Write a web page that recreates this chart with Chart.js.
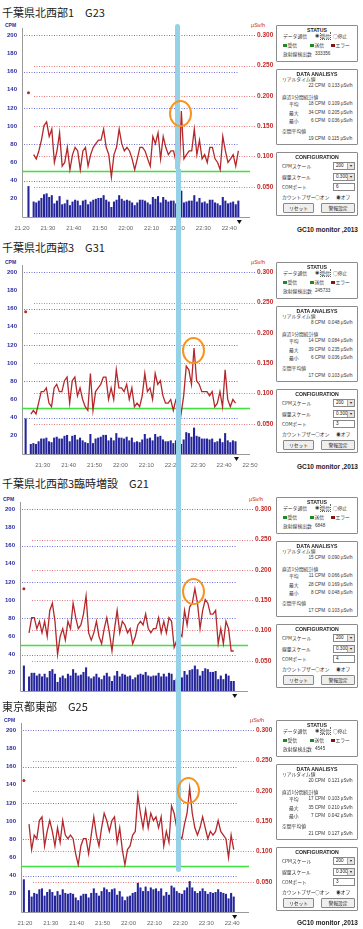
<!DOCTYPE html>
<html>
<head>
<meta charset="utf-8">
<script src="https://cdn.jsdelivr.net/npm/chart.js@4.4.1/dist/chart.umd.min.js"></script>
<style>
body{margin:0;background:#fff;width:363px;height:929px;overflow:hidden;position:relative;font-family:"Noto Sans CJK JP",sans-serif;color:#333}
canvas{position:absolute;z-index:1}
.abs{position:absolute;white-space:nowrap;z-index:1}
.title{font-size:11px;line-height:12px;color:#222}
.cpm{font:bold 5px "Liberation Sans",sans-serif;line-height:6px;color:#2c2ca0}
.usv{font:5.5px "Liberation Sans",sans-serif;line-height:6px;color:#c62828}
.s{font-size:4.8px;line-height:6px;color:#333}
.n{font:4.6px "Liberation Sans",sans-serif;line-height:6px;color:#333}
.box{position:absolute;left:276px;width:82px;border:1px solid #8c8c8c;box-sizing:border-box;border-radius:1px;z-index:1}
.hd{position:absolute;left:276px;width:82px;text-align:center;line-height:7px;z-index:2}
.hd span{background:#fff;padding:0 3px;font:bold 5.2px "Liberation Sans",sans-serif;color:#222}
.sq{position:absolute;width:3.5px;height:3.5px;z-index:1}
.sel{position:absolute;height:8px;border:1px solid #888;box-sizing:border-box;background:#fff;z-index:1;font:4.6px "Liberation Sans",sans-serif;line-height:6px;padding-left:2px;color:#222}
.sel i{position:absolute;right:0;top:0;width:6px;height:6px;background:#e4e4e4;border-left:1px solid #aaa;font-style:normal;font-size:3.5px;text-align:center}
.btn{position:absolute;height:10px;border:1px solid #888;box-sizing:border-box;background:#efefef;border-radius:1px;text-align:center;font-size:4.8px;line-height:8px;z-index:1;color:#222}
.gc{font:bold 6.5px "Liberation Sans",sans-serif;line-height:8px;color:#222}
.mark{position:absolute;z-index:3;border:2.5px solid #f7931e;border-radius:50%;box-sizing:border-box}
.cursor{position:absolute;width:5px;background:#96d2e7;z-index:2}
</style>
</head>
<body>
<div class="cursor" style="left:175px;top:24px;height:145px;border-radius:2.5px 2.5px 0 0"></div>
<div class="cursor" style="left:176px;top:169px;height:703px;border-radius:0 0 2.5px 2.5px"></div>
<script>
// ---- data ----
const stations = ['千葉県北西部1　G23', '千葉県北西部3　G31', '千葉県北西部3臨時増設　G21', '東京都東部　G25'];
// minutes after midnight: axis start/end and time of the first reading
const axisStart = [1280, 1282, 1280, 1278.5];
const axisEnd = [1368, 1370, 1368, 1366.5];
const firstRead = [1282.5, 1283.4, 1281.5, 1279.6];
const showTime = [true, true, false, true];

const cpmTicks = [20, 40, 60, 80, 100, 120, 140, 160, 180, 200];
const doseTicks = [0.05, 0.1, 0.15, 0.2, 0.25, 0.3];
const cpmGrid = [40, 80, 120, 160, 200];
const doseGrid = [0.05, 0.1, 0.15, 0.2, 0.25];
const alarmCpm = 50;

const cpm1 = [34, null, 17,16,18,21,25,26,22,24,15,18, 23,14,15,19,13,17,19,18,13,18, 19,14,17,19,20,21,21,24,19,17, 11,17,19,24,20,18,19,18,16,13, 16,19,19,18,16,14,22,20,23,16, 22,19,17,18,18,15,9,29,16,17, 18,18,24,17,21,16,17,15,19,19, 16,15,13,22,18,15,16,17,14,18];
const dose1 = [0.205, null, .103,.096,.109,.127,.151,.157,.133,.145,.090,.109, .139,.084,.090,.115,.078,.103,.115,.109,.078,.109, .115,.084,.103,.115,.121,.127,.127,.145,.115,.103, .066,.103,.115,.145,.121,.109,.115,.109,.096,.078, .096,.115,.115,.109,.096,.084,.133,.121,.139,.096, .133,.115,.103,.109,.109,.090,.054,.175,.096,.103, .109,.109,.145,.103,.127,.096,.103,.090,.115,.115, .096,.090,.078,.133,.109,.090,.096,.103,.084,.109];

const cpm2 = [39, null, 11,12,11,14,17,17,18,14,13,18, 19,17,17,20,21,14,20,21,16,18, 15,13,12,22,12,17,18,19,21,21, 15,18,15,23,18,18,17,19,15,18, 13,14,13,16,22,17,18,15,22,19, 20,16,14,14,15,12,15,16,11,16, 24,23,19,29,20,19,17,17,17,16, 17,13,14,17,13,23,15,13,15,14];
const dose2 = [0.235, null, .066,.072,.066,.084,.103,.103,.109,.084,.078,.109, .115,.103,.103,.121,.127,.084,.121,.127,.096,.109, .090,.078,.072,.133,.072,.103,.109,.115,.127,.127, .090,.109,.090,.139,.109,.109,.103,.115,.090,.109, .078,.084,.078,.096,.133,.103,.109,.090,.133,.115, .121,.096,.084,.084,.090,.072,.090,.096,.066,.096, .145,.139,.115,.175,.121,.115,.103,.103,.103,.096, .103,.078,.084,.103,.078,.139,.090,.078,.090,.084];

const cpm3 = [28, null, 16,20,20,17,19,16,19,15,22,24, 19,10,15,17,14,19,17,24,20,17, 18,21,26,16,14,16,19,15,13,17, 20,16,11,17,22,16,19,18,16,17, 13,15,18,19,18,21,17,16,17,17, 20,16,19,16,20,19,12,14,16,15, 22,18,23,24,28,24,17,22,25,24, 21,21,22,13,17,13,19,17,11,11];
const dose3 = [0.169, null, .096,.121,.121,.103,.115,.096,.115,.090,.133,.145, .115,.060,.090,.103,.084,.115,.103,.145,.121,.103, .109,.127,.157,.096,.084,.096,.115,.090,.078,.103, .121,.096,.066,.103,.133,.096,.115,.109,.096,.103, .078,.090,.109,.115,.109,.127,.103,.096,.103,.103, .121,.096,.115,.096,.121,.115,.072,.084,.096,.090, .133,.109,.139,.145,.169,.145,.103,.133,.151,.145, .127,.127,.133,.078,.103,.078,.115,.103,.066,.066];

const cpm4 = [36, null, 24,17,21,20,25,26,18,22,25,22, 18,23,19,25,21,20,21,20,16,13, 18,20,20,16,21,26,21,18,23,27, 25,22,25,26,19,23,17,13,17,18, 21,22,32,27,23,28,23,27,25,26, 23,26,18,22,19,29,27,23,21,20, 24,27,34,27,23,21,23,26,23,20, 22,21,22,25,22,21,20,15,21,17];
const dose4 = [0.217, null, .145,.103,.127,.121,.151,.157,.109,.133,.151,.133, .109,.139,.115,.151,.127,.121,.127,.121,.096,.078, .109,.121,.121,.096,.127,.157,.127,.109,.139,.163, .151,.133,.151,.157,.115,.139,.103,.078,.103,.109, .127,.133,.193,.163,.139,.169,.139,.163,.151,.157, .139,.157,.109,.133,.115,.175,.163,.139,.127,.121, .145,.163,.205,.163,.139,.127,.139,.157,.139,.121, .133,.127,.133,.151,.133,.127,.121,.090,.127,.103];

const cpmSeries = [cpm1, cpm2, cpm3, cpm4];
const doseSeries = [dose1, dose2, dose3, dose4];

// side panel readouts
const detectCounts = ['333356', '245733', '6848', '4545'];
const realCpm = [22, 8, 15, 20], realDose = ['0.133', '0.048', '0.090', '0.121'];
const avgCpm = [18, 14, 11, 17], avgDose = ['0.109', '0.084', '0.066', '0.103'];
const maxCpm = [34, 39, 28, 35], maxDose = ['0.205', '0.235', '0.169', '0.210'];
const minCpm = [6, 6, 8, 7], minDose = ['0.036', '0.036', '0.048', '0.042'];
const spaceCpm = [19, 17, 17, 21], spaceDose = ['0.115', '0.103', '0.103', '0.127'];
const comPorts = ['6', '3', '4', '3'];

// ---- layout ----
const PAD_TOP = 6;
const axisBottom = [217, 454, 691, 912];
const canvasLeft = [0, 0, -2, -1];
const titleY = [12, 247, 483, 706];
const sideTop = [25, 262, 497, 720];
const footY = [228, 465, null, 921];

function el(tag, cls, css, text) {
  const e = document.createElement(tag);
  if (cls) e.className = cls;
  Object.assign(e.style, css);
  if (text != null) e.textContent = text;
  document.body.appendChild(e);
  return e;
}
function txt(x, y, s, cls = 's') {
  return el('div', 'abs ' + cls, { left: x + 'px', top: (y - 3) + 'px' }, s);
}
function rtxt(x, y, s, cls = 'n') {
  return el('div', 'abs ' + cls, { right: (363 - x) + 'px', top: (y - 3) + 'px' }, s);
}
function box(top, h, title) {
  el('div', 'box', { top: top + 'px', height: h + 'px' });
  const hd = el('div', 'hd', { top: (top - 3.5) + 'px' });
  const sp = document.createElement('span');
  sp.textContent = title;
  hd.appendChild(sp);
}
function fmtTime(v) {
  return Math.floor(v / 60) + ':' + String(Math.round(v % 60)).padStart(2, '0');
}

function sidePanel(i) {
  const t = sideTop[i];
  box(t, 37, 'STATUS');
  txt(283, t + 11, 'データ通信');
  txt(315, t + 11, '◉', 'n');
  const on = txt(320.5, t + 11, '受信');
  on.style.outline = '1px dotted #666';
  txt(333, t + 11, '○停止');
  el('div', 'sq', { left: '283px', top: (t + 18.5) + 'px', background: '#1d8a22' });
  txt(287.5, t + 20, '受信');
  el('div', 'sq', { left: '310px', top: (t + 18.5) + 'px', background: '#1d8a22' });
  txt(314.5, t + 20, '送信');
  el('div', 'sq', { left: '331px', top: (t + 18.5) + 'px', background: '#8a1212' });
  txt(335.5, t + 20, 'エラー');
  txt(283, t + 29, '放射線検出数');
  txt(315, t + 29, detectCounts[i], 'n');

  box(t + 44, 76, 'DATA ANALISYS');
  const rows = [
    [null, 61, realCpm[i], realDose[i]],
    ['平均', 79, avgCpm[i], avgDose[i]],
    ['最大', 87.5, maxCpm[i], maxDose[i]],
    ['最小', 96, minCpm[i], minDose[i]],
    [null, 114, spaceCpm[i], spaceDose[i]]
  ];
  txt(282, t + 54, 'リアルタイム値');
  txt(282, t + 72, '直近1分間統計値');
  txt(282, t + 106, '空間平均値');
  rows.forEach(([lab, dy, c, d]) => {
    if (lab) txt(289, t + dy, lab);
    rtxt(325, t + dy, c + ' CPM');
    txt(328, t + dy, d + ' μSv/h', 'n');
  });

  box(t + 127, 64, 'CONFIGURATION');
  txt(282, t + 141, 'CPMスケール');
  txt(282, t + 152, '線量スケール');
  txt(282, t + 162, 'COMポート');
  txt(282, t + 172, 'カウントブザー');
  const s1 = el('div', 'sel', { left: '333px', top: (t + 137) + 'px', width: '22px' }, '200');
  const s2 = el('div', 'sel', { left: '333px', top: (t + 148) + 'px', width: '22px' }, '0.300');
  [s1, s2].forEach(s => { const a = document.createElement('i'); a.textContent = '▼'; s.appendChild(a); });
  el('div', 'sel', { left: '333px', top: (t + 158) + 'px', width: '22px' }, comPorts[i]);
  txt(315, t + 172, '○オン');
  txt(336, t + 172, '◉オフ');
  el('div', 'btn', { left: '283px', top: (t + 178) + 'px', width: '31px' }, 'リセット');
  el('div', 'btn', { left: '321px', top: (t + 178) + 'px', width: '34px' }, '警報設定');

  if (footY[i] != null) rtxt(358, footY[i] + 1, 'GC10 monitor ,2013', 'gc');
}

const decor = {
  id: 'decor',
  beforeDatasetsDraw(chart) {
    const { ctx, chartArea: a, scales: { y, y1 } } = chart;
    ctx.save();
    ctx.lineWidth = 1;
    ctx.setLineDash([1, 1.5]);
    ctx.strokeStyle = '#e07c7c';
    doseGrid.forEach(v => {
      const py = Math.round(y1.getPixelForValue(v)) + 0.5;
      ctx.beginPath(); ctx.moveTo(a.left + 12, py); ctx.lineTo(a.right + 5, py); ctx.stroke();
    });
    ctx.strokeStyle = '#7474d8';
    cpmGrid.forEach(v => {
      const py = Math.round(y.getPixelForValue(v)) + 0.5;
      ctx.beginPath(); ctx.moveTo(a.left + 2, py); ctx.lineTo(v === 200 ? a.right + 5 : a.right - 12, py); ctx.stroke();
    });
    ctx.setLineDash([]);
    ctx.strokeStyle = '#9a9a9a';
    ctx.beginPath();
    ctx.moveTo(a.left + 0.5, a.top);
    ctx.lineTo(a.left + 0.5, a.bottom + 0.5);
    ctx.lineTo(a.right, a.bottom + 0.5);
    ctx.stroke();
    ctx.restore();
  },
  afterDraw(chart) {
    const { ctx, chartArea: a, scales: { x } } = chart;
    const pts = chart.data.datasets[0].data;
    const px = x.getPixelForValue(pts[pts.length - 1].x) + 1;
    ctx.save();
    ctx.fillStyle = '#111';
    ctx.beginPath();
    ctx.moveTo(px - 2.5, a.bottom + 3);
    ctx.lineTo(px + 2.5, a.bottom + 3);
    ctx.lineTo(px, a.bottom + 7);
    ctx.closePath();
    ctx.fill();
    ctx.restore();
  }
};

const tickFont = { family: 'Liberation Sans', size: 6, weight: 'bold' };

function makePanel(i) {
  const top = axisBottom[i] - 189 - PAD_TOP;
  el('div', 'abs title', { left: '2px', top: (titleY[i] - 6) + 'px' }, stations[i]);
  el('div', 'abs cpm', { left: (canvasLeft[i] + 5) + 'px', top: (top + PAD_TOP - 6) + 'px' }, 'CPM');
  el('div', 'abs usv', { left: (canvasLeft[i] + 251) + 'px', top: (top + PAD_TOP - 6) + 'px' }, 'μSv/h');

  const cv = el('canvas', null, { left: canvasLeft[i] + 'px', top: top + 'px' });
  cv.width = 276; cv.height = 189 + PAD_TOP + 18;

  const t0 = firstRead[i];
  const cpm = cpmSeries[i], dose = doseSeries[i];
  const chart = new Chart(cv.getContext('2d'), {
    type: 'bar',
    data: {
      datasets: [
        {
          type: 'bar',
          data: cpm.map((v, k) => ({ x: t0 + k, y: v })),
          yAxisID: 'y',
          backgroundColor: '#25259b',
          barPercentage: 0.8,
          categoryPercentage: 1,
          order: 3
        },
        {
          type: 'line',
          data: dose.map((v, k) => ({ x: t0 + k, y: v })),
          yAxisID: 'y1',
          borderColor: '#b4282c',
          borderWidth: 1.3,
          pointRadius: c => c.dataIndex === 0 ? 1.5 : 0,
          pointBackgroundColor: '#b4282c',
          pointBorderWidth: 0,
          spanGaps: false,
          order: 1
        },
        {
          type: 'line',
          data: [{ x: axisStart[i], y: alarmCpm }, { x: axisEnd[i], y: alarmCpm }],
          yAxisID: 'y',
          borderColor: '#3fe03f',
          borderWidth: 1.4,
          pointRadius: 0,
          order: 2
        }
      ]
    },
    options: {
      responsive: false,
      animation: false,
      layout: { padding: { top: PAD_TOP, left: 0, right: 0, bottom: 0 } },
      plugins: { legend: { display: false }, tooltip: { enabled: false } },
      scales: {
        x: {
          type: 'linear',
          offset: false,
          min: axisStart[i],
          max: axisEnd[i],
          grid: { display: false, drawTicks: false },
          border: { display: false },
          afterBuildTicks: s => {
            const ticks = [];
            for (let v = Math.ceil(s.min / 10) * 10; v <= s.max; v += 10) ticks.push({ value: v });
            s.ticks = ticks;
          },
          afterFit: s => { s.height = 18; },
          ticks: {
            display: showTime[i],
            autoSkip: false,
            maxRotation: 0,
            padding: 8,
            color: '#666',
            font: { family: 'Liberation Sans', size: 6 },
            callback: v => fmtTime(v)
          }
        },
        y: {
          position: 'left',
          min: 0,
          max: 208,
          grid: { display: false, drawTicks: true, tickLength: 4 },
          border: { display: false },
          afterBuildTicks: s => { s.ticks = cpmTicks.map(v => ({ value: v })); },
          afterFit: s => { s.width = 22; },
          ticks: { padding: 1, color: '#2c2ca0', font: tickFont }
        },
        y1: {
          position: 'right',
          min: 0,
          max: 0.312,
          grid: { display: false, drawTicks: true, tickLength: 6 },
          border: { display: false },
          afterBuildTicks: s => { s.ticks = doseTicks.map(v => ({ value: v })); },
          afterFit: s => { s.width = 26; },
          ticks: { padding: 1, color: '#c62828', font: { family: 'Liberation Sans', size: 6.5, weight: 'bold' }, callback: v => v.toFixed(3) }
        }
      }
    },
    plugins: [decor]
  });

  // circle the newest peak reading
  let peak = 2;
  dose.forEach((v, k) => { if (k > 1 && v > dose[peak]) peak = k; });
  const p = chart.getDatasetMeta(1).data[peak];
  const rx = 11.5, ry = 13.5;
  el('div', 'mark', {
    left: (canvasLeft[i] + p.x - 1 - rx) + 'px',
    top: (top + p.y + 3 - ry) + 'px',
    width: 2 * rx + 'px',
    height: 2 * ry + 'px'
  });

  sidePanel(i);
}

for (let i = 0; i < 4; i++) makePanel(i);
</script>
</body>
</html>
